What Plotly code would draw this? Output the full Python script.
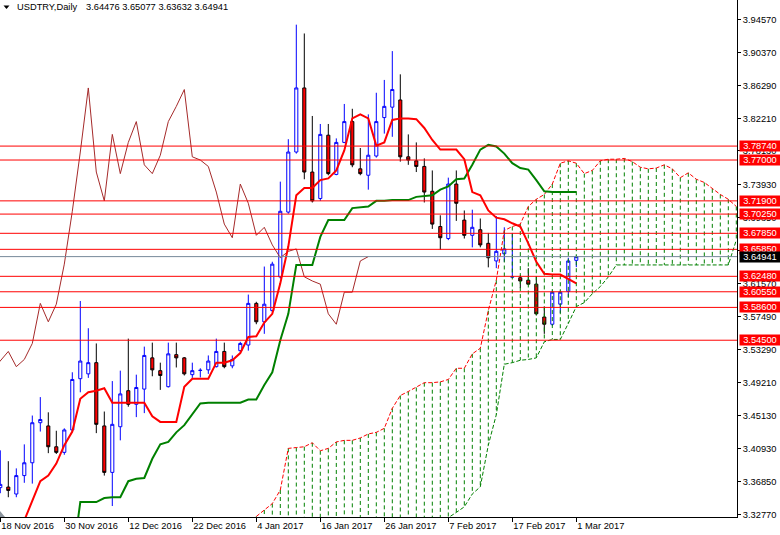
import plotly.graph_objects as go

# ---------------- data ----------------
tick_bars = [0, 8, 16, 24, 32, 40, 48, 56, 64, 72]
tick_labels = ["18 Nov 2016", "30 Nov 2016", "12 Dec 2016", "22 Dec 2016", "4 Jan 2017",
               "16 Jan 2017", "26 Jan 2017", "7 Feb 2017", "17 Feb 2017", "1 Mar 2017"]

opens = [3.361, 3.3617, 3.353, 3.376, 3.392, 3.442, 3.438, 3.412, 3.405, 3.433,
         3.497, 3.503, 3.517, 3.438, 3.380, 3.437, 3.482, 3.465, 3.484, 3.523,
         3.507, 3.487, 3.527, 3.523, 3.502, 3.5072, 3.508, 3.512, 3.531, 3.513,
         3.532, 3.539, 3.591, 3.568, 3.582, 3.624, 3.705, 3.780, 3.860, 3.755,
         3.722, 3.801, 3.752, 3.792, 3.818, 3.759, 3.751, 3.775, 3.823, 3.836,
         3.845, 3.774, 3.769, 3.762, 3.731, 3.687, 3.672, 3.740, 3.695, 3.676,
         3.683, 3.666, 3.644, 3.653, 3.6238, 3.623, 3.620, 3.615, 3.574, 3.565,
         3.590, 3.606, 3.64476]
highs = [3.4075, 3.394, 3.385, 3.415, 3.451, 3.474, 3.455, 3.432, 3.435, 3.505,
         3.594, 3.560, 3.541, 3.456, 3.494, 3.507, 3.547, 3.502, 3.537, 3.542,
         3.517, 3.542, 3.542, 3.524, 3.517, 3.510, 3.526, 3.547, 3.542, 3.526,
         3.543, 3.602, 3.593, 3.637, 3.643, 3.743, 3.796, 3.939, 3.928, 3.825,
         3.815, 3.815, 3.797, 3.840, 3.834, 3.785, 3.827, 3.854, 3.870, 3.906,
         3.877, 3.802, 3.792, 3.772, 3.757, 3.701, 3.748, 3.757, 3.707, 3.708,
         3.697, 3.679, 3.700, 3.686, 3.679, 3.626, 3.635, 3.625, 3.587, 3.607,
         3.607, 3.648, 3.65077]
lows = [3.354, 3.349, 3.349, 3.367, 3.366, 3.431, 3.404, 3.403, 3.402, 3.430,
        3.480, 3.498, 3.429, 3.376, 3.338, 3.420, 3.462, 3.449, 3.454, 3.500,
        3.483, 3.486, 3.511, 3.501, 3.498, 3.4985, 3.503, 3.511, 3.510, 3.510,
        3.530, 3.532, 3.565, 3.553, 3.580, 3.622, 3.703, 3.778, 3.746, 3.717,
        3.719, 3.751, 3.751, 3.791, 3.761, 3.751, 3.733, 3.773, 3.803, 3.799,
        3.768, 3.764, 3.755, 3.717, 3.684, 3.658, 3.670, 3.694, 3.672, 3.661,
        3.661, 3.636, 3.635, 3.643, 3.6235, 3.610, 3.614, 3.576, 3.553, 3.563,
        3.579, 3.599, 3.63632]
closes = [3.365, 3.3575, 3.376, 3.392, 3.442, 3.446, 3.412, 3.405, 3.433, 3.496,
          3.519, 3.517, 3.440, 3.380, 3.440, 3.478, 3.465, 3.486, 3.526, 3.508,
          3.501, 3.528, 3.523, 3.503, 3.507, 3.5075, 3.519, 3.531, 3.512, 3.521,
          3.541, 3.591, 3.568, 3.590, 3.640, 3.706, 3.780, 3.860, 3.755, 3.719,
          3.802, 3.753, 3.792, 3.818, 3.764, 3.753, 3.776, 3.818, 3.837, 3.858,
          3.774, 3.770, 3.762, 3.730, 3.690, 3.673, 3.740, 3.716, 3.676, 3.686,
          3.664, 3.648, 3.656, 3.659, 3.6242, 3.619, 3.615, 3.578, 3.565, 3.605,
          3.605, 3.644, 3.64941]

tenkan = [3.280, 3.290, 3.300, 3.320, 3.345, 3.369, 3.376, 3.391, 3.414, 3.431,
          3.472, 3.480, 3.482, 3.485, 3.467, 3.467, 3.467, 3.467, 3.467, 3.450,
          3.443, 3.443, 3.443, 3.487, 3.497, 3.497, 3.497, 3.517, 3.517, 3.520,
          3.529, 3.549, 3.550, 3.567, 3.578, 3.616, 3.662, 3.726, 3.735, 3.735,
          3.745, 3.747, 3.757, 3.782, 3.822, 3.827, 3.822, 3.788, 3.792, 3.820,
          3.822, 3.822, 3.821, 3.810, 3.795, 3.783, 3.783, 3.783, 3.771, 3.730,
          3.726, 3.707, 3.698, 3.696, 3.691, 3.687, 3.666, 3.643, 3.628, 3.627,
          3.627, 3.622, 3.616]
kijun = [3.268, 3.268, 3.268, 3.268, 3.268, 3.268, 3.268, 3.268, 3.268, 3.268,
         3.343, 3.343, 3.343, 3.348, 3.349, 3.349, 3.369, 3.372, 3.373, 3.397,
         3.415, 3.418, 3.430, 3.439, 3.453, 3.466, 3.467, 3.467, 3.467, 3.467,
         3.467, 3.471, 3.471, 3.489, 3.505, 3.545, 3.578, 3.639, 3.639, 3.639,
         3.674, 3.695, 3.695, 3.695, 3.710, 3.711, 3.712, 3.719, 3.719, 3.720,
         3.720, 3.720, 3.724, 3.725, 3.726, 3.733, 3.737, 3.746, 3.747, 3.764,
         3.783, 3.789, 3.787, 3.778, 3.766, 3.760, 3.758, 3.745, 3.731, 3.730,
         3.730, 3.730, 3.730]

cloud_start = 32  # bar index of the first cloud value below
span_a = [3.325, 3.333, 3.341, 3.358, 3.410, 3.411, 3.412, 3.417, 3.407, 3.410,
          3.418, 3.420, 3.420, 3.423, 3.428, 3.430, 3.435, 3.460, 3.476, 3.481,
          3.486, 3.492, 3.492, 3.493, 3.496, 3.510, 3.510, 3.528, 3.535, 3.582,
          3.620, 3.682, 3.687, 3.690, 3.712, 3.721, 3.727, 3.740, 3.766, 3.769,
          3.766, 3.753, 3.757, 3.769, 3.771, 3.771, 3.772, 3.768, 3.761, 3.759,
          3.760, 3.764, 3.759, 3.748, 3.754, 3.746, 3.742, 3.734, 3.727, 3.721,
          3.712]
span_b = [3.310, 3.310, 3.310, 3.310, 3.310, 3.310, 3.310, 3.310, 3.310, 3.310,
          3.310, 3.310, 3.310, 3.310, 3.310, 3.310, 3.310, 3.310, 3.310, 3.310,
          3.310, 3.310, 3.310, 3.315, 3.3235, 3.330, 3.337, 3.353, 3.362, 3.414,
          3.452, 3.515, 3.517, 3.520, 3.521, 3.523, 3.543, 3.546, 3.546, 3.566,
          3.587, 3.592, 3.603, 3.612, 3.624, 3.639, 3.639, 3.639, 3.639, 3.639,
          3.639, 3.639, 3.639, 3.639, 3.639, 3.639, 3.639, 3.639, 3.639, 3.639,
          3.670]
chikou_lag = 26

levels = [3.78740, 3.77000, 3.71900, 3.70250, 3.67850, 3.65850,
          3.62480, 3.60550, 3.58600, 3.54500]
last_price = 3.64941
y_ticks = [3.32770, 3.36850, 3.40930, 3.45130, 3.49210, 3.53290, 3.57490, 3.61570,
           3.65650, 3.69850, 3.73930, 3.78130, 3.82210, 3.86290, 3.90370, 3.94570]
title_name = "USDTRY,Daily"
title_ohlc = "3.64476 3.65077 3.63632 3.64941"

# ---------------- figure ----------------
FONT = "Liberation Sans, Arial, sans-serif"
FS = 9.3
bars = list(range(len(closes)))
fig = go.Figure()

fig.add_trace(go.Candlestick(
    x=bars, open=opens, high=highs, low=lows, close=closes,
    increasing=dict(line=dict(color="#0000FF", width=1), fillcolor="#FFFFFF"),
    decreasing=dict(line=dict(color="#000000", width=1), fillcolor="#FF0000"),
    whiskerwidth=0, hoverinfo="none", showlegend=False))

cloud_x = [cloud_start + k for k in range(len(span_a))]
hx, hy = [], []
for xi, a, b in zip(cloud_x, span_a, span_b):
    hx += [xi, xi, None]
    hy += [a, b, None]
fig.add_trace(go.Scatter(x=hx, y=hy, mode="lines", hoverinfo="skip",
                         line=dict(color="#008000", width=1, dash="4px,3px")))
fig.add_trace(go.Scatter(x=cloud_x, y=span_a, mode="lines", hoverinfo="skip",
                         line=dict(color="#FF0000", width=1, dash="4px,2px")))
fig.add_trace(go.Scatter(x=cloud_x, y=span_b, mode="lines", hoverinfo="skip",
                         line=dict(color="#008000", width=1, dash="4px,2px")))

ch_idx = list(range(chikou_lag - 1, len(closes)))
fig.add_trace(go.Scatter(x=[i - chikou_lag for i in ch_idx], y=[closes[i] for i in ch_idx],
                         mode="lines", hoverinfo="skip",
                         line=dict(color="#A52A2A", width=1)))
fig.add_trace(go.Scatter(x=bars, y=kijun, mode="lines", hoverinfo="skip",
                         line=dict(color="#008000", width=2)))
fig.add_trace(go.Scatter(x=bars, y=tenkan, mode="lines", hoverinfo="skip",
                         line=dict(color="#FF0000", width=2)))

for lv in levels:
    fig.add_shape(type="line", xref="paper", x0=0, x1=1, yref="y", y0=lv, y1=lv,
                  line=dict(color="#FF0000", width=1), layer="above")
fig.add_shape(type="line", xref="paper", x0=0, x1=1, yref="y", y0=last_price, y1=last_price,
              line=dict(color="#778899", width=1), layer="above")

PW, PH = 737.0, 517.0
for lv in levels:
    fig.add_annotation(xref="paper", x=1, xanchor="left", xshift=2, yref="y", y=lv,
                       yanchor="middle", text=f"{lv:.5f}", showarrow=False,
                       bgcolor="#FF0000", font=dict(family=FONT, size=FS, color="white"),
                       width=40, height=10, borderpad=0, align="center")
fig.add_annotation(xref="paper", x=1, xanchor="left", xshift=2, yref="y", y=last_price,
                   yanchor="middle", text=f"{last_price:.5f}", showarrow=False,
                   bgcolor="#000000", font=dict(family=FONT, size=FS, color="white"),
                   width=40, height=10, borderpad=0, align="center")

# title
fig.add_annotation(xref="paper", yref="paper", x=15 / PW, y=1 - 7 / PH, xanchor="left",
                   yanchor="middle", text=title_name, showarrow=False,
                   font=dict(family=FONT, size=FS, color="black"))
fig.add_annotation(xref="paper", yref="paper", x=84 / PW, y=1 - 7 / PH, xanchor="left",
                   yanchor="middle", text=title_ohlc, showarrow=False,
                   font=dict(family=FONT, size=FS, color="black"))
fig.add_shape(type="path", xref="paper", yref="paper",
              path=f"M {3.5/PW},{1-5.5/PH} L {9.5/PW},{1-5.5/PH} L {6.5/PW},{1-9/PH} Z",
              fillcolor="black", line=dict(width=0))
fig.add_shape(type="path", xref="paper", yref="paper",
              path=f"M {-5/PW},0 L {5/PW},0 L 0,{6/PH} Z",
              fillcolor="#8C959E", line=dict(width=0))

fig.update_layout(
    width=780, height=535, margin=dict(l=0, r=43, t=0, b=18),
    paper_bgcolor="white", plot_bgcolor="white", showlegend=False,
    boxgap=0.45, hovermode=False,
    font=dict(family=FONT, size=FS, color="black"),
    xaxis=dict(range=[-0.0375, 92.0875], tickvals=tick_bars, ticktext=tick_labels,
               ticks="outside", ticklen=4, tickcolor="black", showline=True,
               linecolor="black", linewidth=1, showgrid=False, zeroline=False,
               ticklabelposition="outside right", automargin=False,
               rangeslider=dict(visible=False), tickfont=dict(family=FONT, size=FS)),
    yaxis=dict(range=[3.3243, 3.9698], side="right", tickvals=y_ticks,
               ticktext=[f"{v:.5f}" for v in y_ticks], ticks="outside", ticklen=3,
               tickcolor="black", showline=True, linecolor="black", linewidth=1,
               showgrid=False, zeroline=False, automargin=False,
               tickfont=dict(family=FONT, size=FS)),
)

fig.write_html("out.html", config={"displayModeBar": False},
               post_script="document.body.style.margin='0px';document.body.style.padding='0px';")
